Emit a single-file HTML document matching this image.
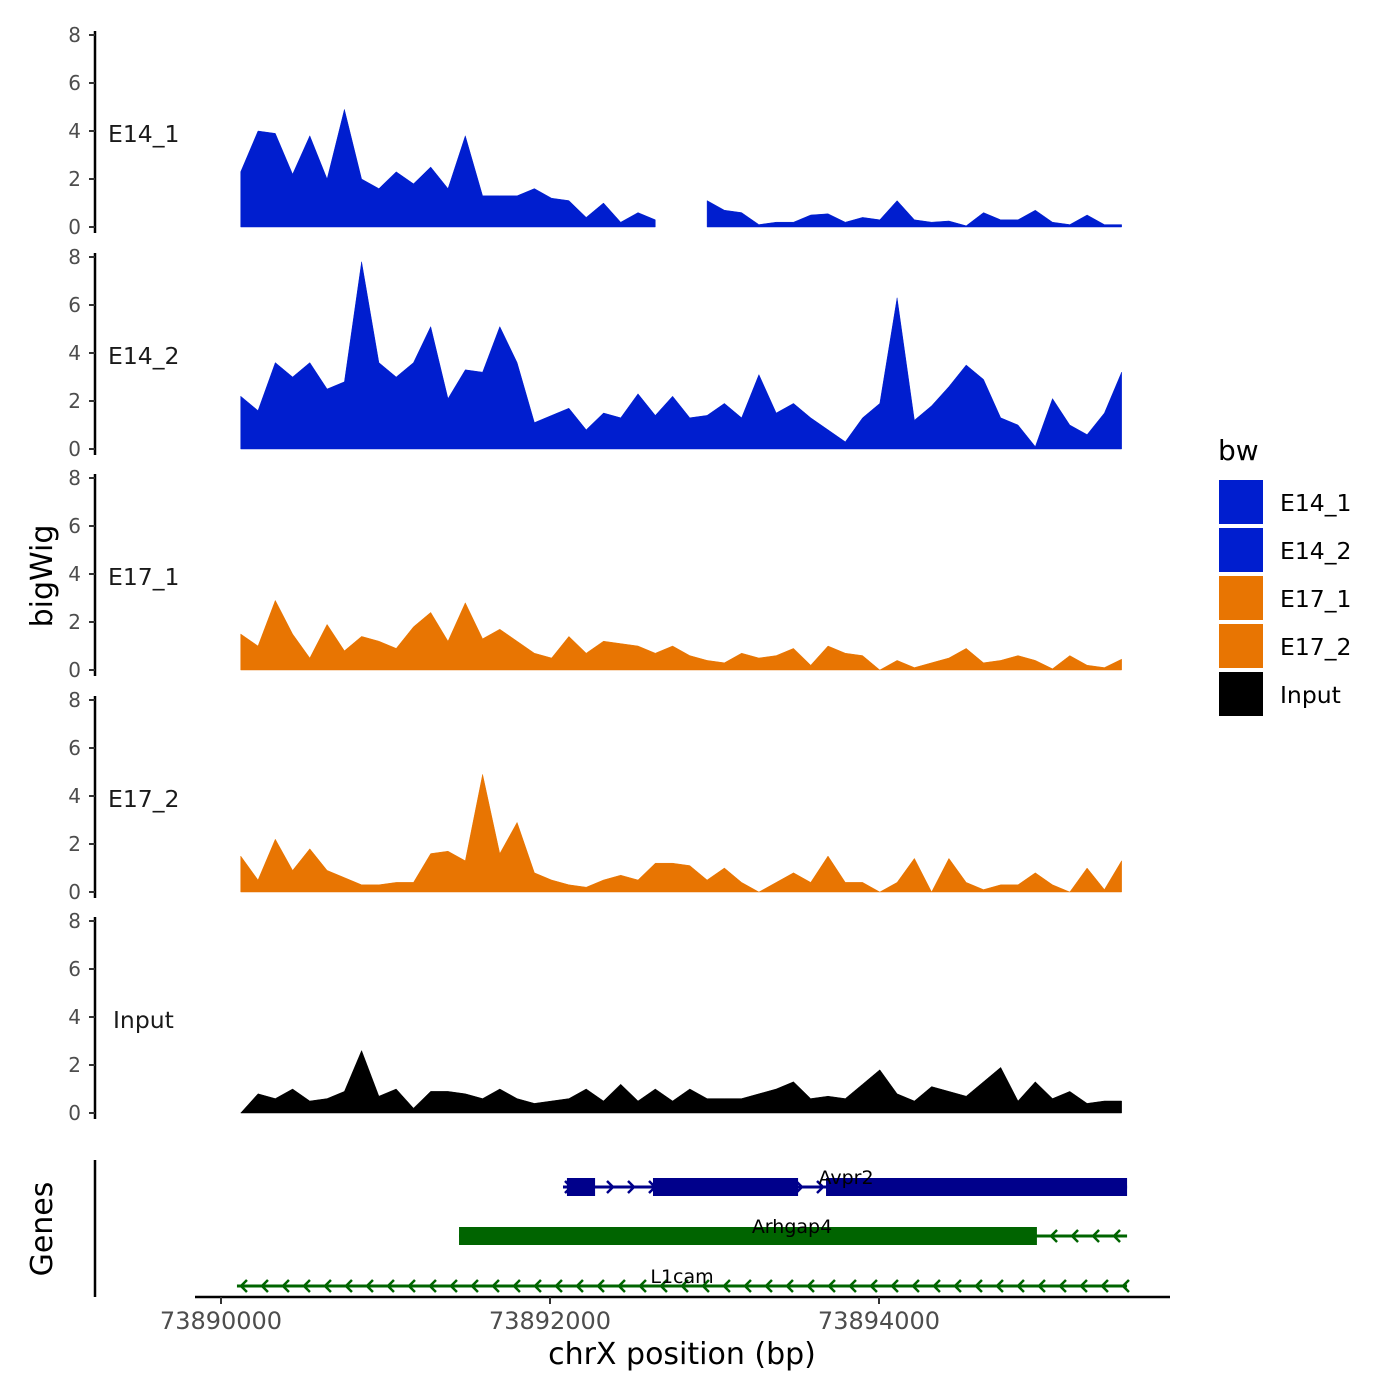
<!DOCTYPE html>
<html><head><meta charset="utf-8"><style>
body{margin:0;background:#fff}
svg{display:block;font-family:"DejaVu Sans","Liberation Sans",sans-serif}
</style></head><body>
<svg id="chart" width="1400" height="1400" viewBox="0 0 1400 1400" xmlns="http://www.w3.org/2000/svg"></svg>
<script>
const startBp = 73890120;
const stepBp = 105;
const trackNames = ["E14_1","E14_2","E17_1","E17_2","Input"];
const trackColors = ["#001ecf","#001ecf","#e87502","#e87502","#000000"];
const e14_1 = [2.3,4.0,3.9,2.2,3.8,2.0,4.9,2.0,1.6,2.3,1.8,2.5,1.6,3.8,1.3,1.3,1.3,1.6,1.2,1.1,0.4,1.0,0.2,0.6,0.3,null,null,1.1,0.7,0.6,0.1,0.2,0.2,0.5,0.55,0.2,0.4,0.3,1.1,0.3,0.2,0.25,0.05,0.6,0.3,0.3,0.7,0.2,0.1,0.5,0.1,0.1];
const e14_2 = [2.2,1.6,3.6,3.0,3.6,2.5,2.8,7.8,3.6,3.0,3.6,5.1,2.1,3.3,3.2,5.1,3.6,1.1,1.4,1.7,0.8,1.5,1.3,2.3,1.4,2.2,1.3,1.4,1.9,1.3,3.1,1.5,1.9,1.3,0.8,0.3,1.3,1.9,6.3,1.2,1.8,2.6,3.5,2.9,1.3,1.0,0.1,2.1,1.0,0.6,1.5,3.2];
const e17_1 = [1.5,1.0,2.9,1.5,0.5,1.9,0.8,1.4,1.2,0.9,1.8,2.4,1.2,2.8,1.3,1.7,1.2,0.7,0.5,1.4,0.7,1.2,1.1,1.0,0.7,1.0,0.6,0.4,0.3,0.7,0.5,0.6,0.9,0.2,1.0,0.7,0.6,0.0,0.4,0.1,0.3,0.5,0.9,0.3,0.4,0.6,0.4,0.05,0.6,0.2,0.1,0.45];
const e17_2 = [1.5,0.5,2.2,0.9,1.8,0.9,0.6,0.3,0.3,0.4,0.4,1.6,1.7,1.3,4.9,1.6,2.9,0.8,0.5,0.3,0.2,0.5,0.7,0.5,1.2,1.2,1.1,0.5,1.0,0.4,0.0,0.4,0.8,0.4,1.5,0.4,0.4,0.0,0.4,1.4,0.0,1.4,0.4,0.1,0.3,0.3,0.8,0.3,0.0,1.0,0.1,1.3];
const inputVals = [0.0,0.8,0.6,1.0,0.5,0.6,0.9,2.6,0.7,1.0,0.2,0.9,0.9,0.8,0.6,1.0,0.6,0.4,0.5,0.6,1.0,0.5,1.2,0.5,1.0,0.5,1.0,0.6,0.6,0.6,0.8,1.0,1.3,0.6,0.7,0.6,1.2,1.8,0.8,0.5,1.1,0.9,0.7,1.3,1.9,0.5,1.3,0.6,0.9,0.4,0.5,0.5];
const series = [e14_1,e14_2,e17_1,e17_2,inputVals];
const yTicks = [0,2,4,6,8];
const xTicks = [73890000,73892000,73894000];
const xTickLabels = ["73890000","73892000","73894000"];
const avpr2Exons = [[73892103,73892274],[73892626,73893508],[73893678,73895508]];
const avpr2Span = [73892079,73895508];
const arhgap4Exons = [[73891447,73894960]];
const arhgap4Span = [73891447,73895508];
const l1camSpan = [73890097,73895508];

const svg = document.getElementById('chart');
const NS = 'http://www.w3.org/2000/svg';
function mk(tag, attrs, parent){const e=document.createElementNS(NS,tag);for(const k in attrs)e.setAttribute(k,attrs[k]);(parent||svg).appendChild(e);return e;}
function xs(bp){return 221 + (bp-73890000)*0.1645;}
const zeros = [227,449,670,892,1113];
function ys(p,v){return zeros[p] - v*24;}

series.forEach((vals,p)=>{
  const g = mk('g',{});
  
  
  const ax = mk('line',{x1:95,x2:95,y1:ys(p,8)-4,y2:zeros[p]+6,stroke:'#000','stroke-width':2.5},g);
  
  
  yTicks.forEach(t=>{
    mk('line',{x1:89,x2:95,y1:ys(p,t),y2:ys(p,t),stroke:'#333','stroke-width':2},g);
    const tl = mk('text',{x:81,y:ys(p,t)+7,'text-anchor':'end','font-size':20,fill:'#4d4d4d'},g);
    tl.textContent = t;
    
    
  });
  const lab = mk('text',{x:p===4?113:108,y:zeros[p]-93+8,'font-size':23.5,fill:'#1a1a1a'},g);
  lab.textContent = trackNames[p];
  
  
  let seg=[];
  const segs=[];
  vals.forEach((v,i)=>{ if(v===null){ if(seg.length)segs.push(seg); seg=[]; } else seg.push([startBp+i*stepBp,v]); });
  if(seg.length) segs.push(seg);
  segs.forEach(s=>{
    let d='M'+xs(s[0][0]).toFixed(1)+','+zeros[p];
    s.forEach(([b,v])=>{d+=' L'+xs(b).toFixed(1)+','+ys(p,v).toFixed(1);});
    d+=' L'+xs(s[s.length-1][0]).toFixed(1)+','+zeros[p]+' Z';
    const a = mk('path',{d:d,fill:trackColors[p],stroke:trackColors[p],'stroke-width':0.5,'stroke-linejoin':'round'},g);
    
    
  });
});

const yt = mk('text',{x:0,y:0,transform:'translate(52,576) rotate(-90)','text-anchor':'middle','font-size':30,fill:'#000'});
yt.textContent='bigWig';


const gt = mk('text',{x:0,y:0,transform:'translate(52,1229) rotate(-90)','text-anchor':'middle','font-size':30,fill:'#000'});
gt.textContent='Genes';



const gy = mk('line',{x1:95,x2:95,y1:1160,y2:1297,stroke:'#000','stroke-width':2.5});


const gx = mk('line',{x1:195,x2:1170,y1:1297,y2:1297,stroke:'#000','stroke-width':2.5});


xTicks.forEach((t,i)=>{
  mk('line',{x1:xs(t),x2:xs(t),y1:1297,y2:1304,stroke:'#333','stroke-width':2});
  const tl = mk('text',{x:xs(t),y:1329,'text-anchor':'middle','font-size':24,fill:'#4d4d4d'});
  tl.textContent = xTickLabels[i];
  
  
});
const xt = mk('text',{x:682,y:1364,'text-anchor':'middle','font-size':30,fill:'#000'});
xt.textContent='chrX position (bp)';



function gene(name, span, exons, y, color, dir, labelX){
  const g = mk('g',{});
  
  
  mk('line',{x1:xs(span[0]),x2:xs(span[1]),y1:y,y2:y,stroke:color,'stroke-width':3},g);
  for(let x=xs(span[0])+6; x<xs(span[1]); x+=21){
    const d = dir>0 ? `M${x-4},${y-6} L${x+2},${y} L${x-4},${y+6}` : `M${x+4},${y-6} L${x-2},${y} L${x+4},${y+6}`;
    mk('path',{d:d,stroke:color,'stroke-width':2.5,fill:'none'},g);
  }
  exons.forEach(e=>{
    const r = mk('rect',{x:xs(e[0]),y:y-9,width:xs(e[1])-xs(e[0]),height:18,fill:color},g);
    
    
  });
  const t = mk('text',{x:labelX,y:y-3,'text-anchor':'middle','font-size':19,fill:'#000'},g);
  t.textContent = name;
  
  
}
gene('Avpr2', avpr2Span, avpr2Exons, 1187, '#00008b', 1, 846);
gene('Arhgap4', arhgap4Span, arhgap4Exons, 1236, '#006400', -1, 792);
gene('L1cam', l1camSpan, [], 1286, '#006400', -1, 682);

const lg = mk('g',{});


const lt = mk('text',{x:1218,y:460,'font-size':28,fill:'#000'},lg);
lt.textContent='bw';


trackNames.forEach((n,i)=>{
  const y0 = 480 + i*48;
  const r = mk('rect',{x:1219,y:y0,width:44,height:44,fill:trackColors[i]},lg);
  
  
  const t = mk('text',{x:1280,y:y0+31,'font-size':23.5,fill:'#000'},lg);
  t.textContent = n;
  
  
});
</script>
</body></html>
